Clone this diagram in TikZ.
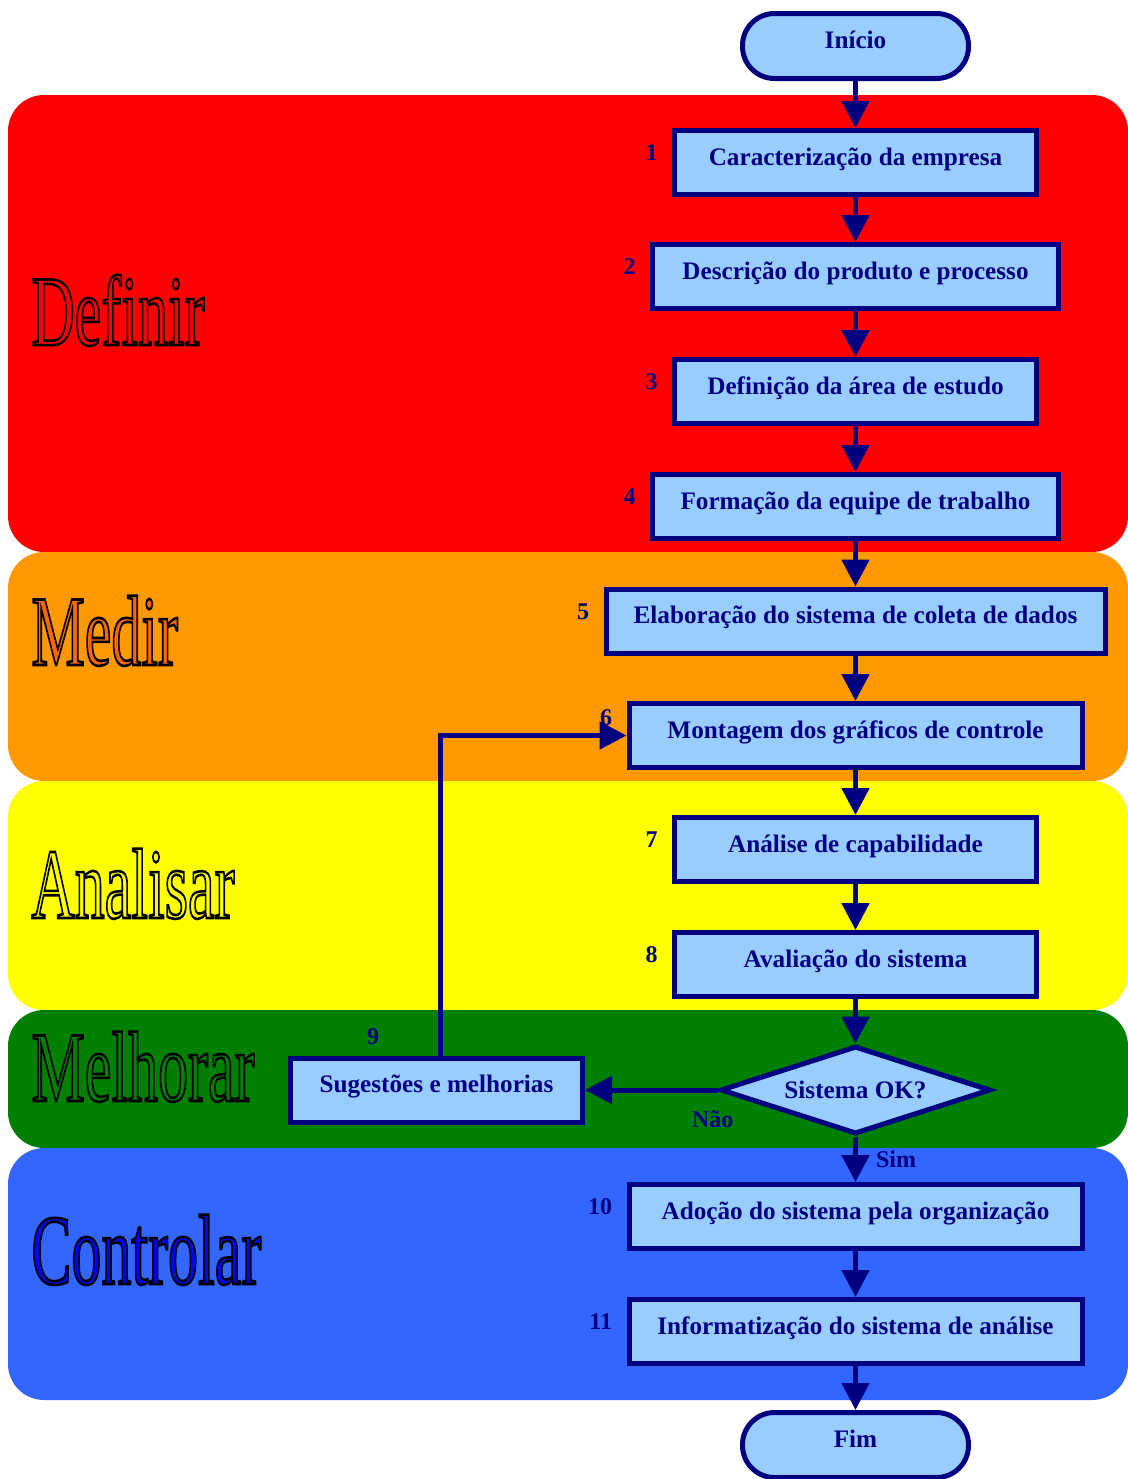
\documentclass[tikz,border=0pt]{standalone}
\usepackage{fontspec}
\setmainfont{Liberation Serif}
\usepackage{graphicx}
\usetikzlibrary{arrows.meta,shapes.geometric}

\definecolor{boxblue}{HTML}{99CCFF}
\definecolor{navyline}{HTML}{000080}
\definecolor{bandred}{HTML}{FF0000}
\definecolor{bandorange}{HTML}{FF9900}
\definecolor{bandyellow}{HTML}{FFFF00}
\definecolor{bandgreen}{HTML}{008000}
\definecolor{bandblue}{HTML}{3366FF}
\definecolor{medirfill}{HTML}{FF6600}
\definecolor{controlfill}{HTML}{0000FF}

% outlined text: fill in #1, black stroke
\newcommand\phasetext[2]{\scalebox{0.6}[1]{{\color{#1}\special{pdf:literal direct 0 0 0 RG 1.3 w 2 Tr}#2\special{pdf:literal direct 0 Tr}}}}

\def\xMid{855.5}
\def\bandL{8}
\def\bandR{1128}

\begin{document}
\begin{tikzpicture}[x=0.5pt, y=-0.5pt,
    stepbox/.style={draw=navyline, fill=boxblue, line width=2.5pt, text=navyline,
        font=\bfseries\fontsize{12.6}{14}\selectfont, inner sep=0pt,
        minimum height=32pt, text height=8.5pt, text depth=6pt},
    terminal/.style={stepbox, rounded corners=16pt, minimum width=113pt, minimum height=32.5pt},
    decision/.style={stepbox, diamond, aspect=3, minimum width=135pt, minimum height=44pt,
        text height=, text depth=},
    stepnum/.style={text=navyline, font=\bfseries\fontsize{12}{12}\selectfont,
        inner sep=0pt, label distance=7pt},
    flow/.style={draw=navyline, line width=2.5pt, -{Triangle[length=13.5pt,width=13.5pt]}},
    answer/.style={text=navyline, font=\bfseries\fontsize{12}{13}\selectfont, inner sep=0pt},
    phase/.style={inner sep=0pt, anchor=base west, font=\fontsize{50}{50}\selectfont}]
  \useasboundingbox (0,0) rectangle (1128,1479);

  \foreach \c/\t/\b in {bandred/95/552, bandorange/552/781, bandyellow/781/1010,
                        bandgreen/1010/1148, bandblue/1148/1400} {
    \fill[\c, rounded corners=18pt] (\bandL,\t) rectangle (\bandR,\b);
  }

  \node[phase] (pdef) at (31,345) {\phasetext{bandred}{Definir}};
  \node[phase] (pmed) at (31,665) {\phasetext{medirfill}{Medir}};
  \node[phase] (pana) at (31,918) {\phasetext{bandyellow}{Analisar}};
  \node[phase] (pmel) at (31,1101) {\phasetext{bandgreen}{Melhorar}};
  \node[phase] (pcon) at (31,1284) {\phasetext{controlfill}{Controlar}};

  \node[terminal] (ini) at (\xMid,46) {Início};
  \node[terminal] (fim) at (\xMid,1445) {Fim};

  \foreach \n/\y/\w/\s/\t in {
      1/162.5/367/4.75pt/Caracterização da empresa,
      2/276.5/411/4.75pt/Descrição do produto e processo,
      3/391.5/367/4.75pt/Definição da área de estudo,
      4/506.5/411/4.75pt/Formação da equipe de trabalho,
      5/621/504/4.75pt/Elaboração do sistema de coleta de dados,
      6/735.5/458/8.75pt/Montagem dos gráficos de controle,
      7/849.5/367/4.75pt/Análise de capabilidade,
      8/964.5/367/4.75pt/Avaliação do sistema,
      10/1216.5/458/4.75pt/Adoção do sistema pela organização,
      11/1331.5/458/4.75pt/Informatização do sistema de análise} {
    \node[stepbox, minimum width=\w*0.5pt-2.5pt,
          label={[stepnum, yshift=\s]left:\n}] (b\n) at (\xMid,\y) {\t};
  }

  \node[decision] (ok) at (\xMid,1090) {Sistema OK?};
  \node[stepbox, minimum width=146pt,
        label={[stepnum, xshift=-31.75pt, label distance=5pt]above:9}] (b9) at (436.5,1090)
        {Sugestões e melhorias};

  \foreach \a/\b in {ini/b1, b1/b2, b2/b3, b3/b4, b4/b5, b5/b6, b6/b7, b7/b8, b8/ok,
                     b10/b11, b11/fim} {
    \draw[flow] (\a) -- (\b);
  }
  \draw[flow] (ok.west) -- (b9.east) node[answer, pos=0.04, below=9pt] {Não};
  \draw[flow] (ok.south) -- (b10.north) node[answer, midway, right=9pt] {Sim};
  \draw[flow] ([xshift=2pt]b9.north) |- (b6.west);
\end{tikzpicture}
\end{document}
